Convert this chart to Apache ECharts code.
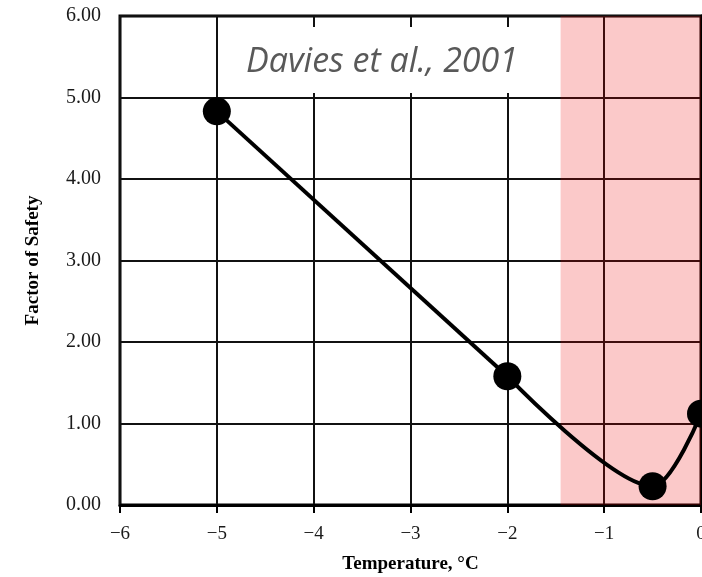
<!DOCTYPE html>
<html>
<head>
<meta charset="utf-8">
<script src="https://cdn.jsdelivr.net/npm/echarts@6/dist/echarts.min.js"></script>
<style>
  html, body { margin: 0; padding: 0; background: #fff; }
  #main { width: 702px; height: 577px; }
</style>
</head>
<body>
<div id="main"></div>
<script>
// data
var temps = [-5, -2, -0.5, 0];
var safety = [4.83, 1.58, 0.23, 1.12];
var xTicks = [-6, -5, -4, -3, -2, -1, 0];
var yTicks = [0, 1, 2, 3, 4, 5, 6];
var zoneStart = -1.45;   // start of shaded band
var zoneEnd = 0;

var pts = temps.map(function (t, i) { return [t, safety[i]]; });
var serif = '"Liberation Serif", "DejaVu Serif", serif';

var myChart = echarts.init(document.getElementById('main'));

var option = {
    animation: false,
    grid: {
        left: 120, right: 1, top: 16, bottom: 72,
        outerBoundsMode: 'none',
        containLabel: false,
        show: true, borderColor: '#000', borderWidth: 3, backgroundColor: 'transparent'
    },
    xAxis: {
        type: 'value',
        min: xTicks[0], max: xTicks[xTicks.length - 1], interval: 1,
        name: 'Temperature, °C',
        nameLocation: 'middle', nameGap: 50,
        nameTextStyle: { fontFamily: serif, fontWeight: 'bold', fontSize: 19, color: '#000' },
        axisLine: { lineStyle: { color: '#000', width: 3 } },
        axisTick: { show: true, length: 8, lineStyle: { color: '#000', width: 2 } },
        axisLabel: {
            margin: 20, fontFamily: serif, fontSize: 19, color: '#1a1a1a',
            formatter: function (v) { return String(v).replace('-', '\u2212'); }
        },
        splitLine: { show: true, lineStyle: { color: '#111', width: 2 } }
    },
    yAxis: {
        type: 'value',
        min: yTicks[0], max: yTicks[yTicks.length - 1], interval: 1,
        name: 'Factor of Safety',
        nameLocation: 'middle', nameGap: 77,
        nameTextStyle: { fontFamily: serif, fontWeight: 'bold', fontSize: 19, color: '#000' },
        axisLine: { show: true, lineStyle: { color: '#000', width: 3 } },
        axisTick: { show: false },
        axisLabel: {
            margin: 19, fontFamily: serif, fontSize: 20, color: '#1a1a1a',
            formatter: function (v) { return v.toFixed(2); }
        },
        splitLine: { show: true, lineStyle: { color: '#111', width: 2 } }
    },
    graphic: [
        {
            type: 'rect', z: 50,
            shape: { x: 228, y: 27, width: 327, height: 66 },
            style: { fill: '#fff' }
        },
        {
            type: 'text', z: 51,
            x: 382, y: 62,
            style: {
                text: 'Davies et al., 2001',
                fontFamily: '"Open Sans", "Noto Sans", sans-serif',
                fontStyle: 'italic', fontSize: 34, fill: '#595959',
                align: 'center', verticalAlign: 'middle'
            }
        }
    ],
    series: [
        {
            type: 'line',
            data: pts.slice(0, 2),
            showSymbol: false,
            lineStyle: { color: '#000', width: 4 },
            z: 3
        },
        {
            type: 'line',
            data: pts.slice(1),
            smooth: 0.3,
            showSymbol: false,
            lineStyle: { color: '#000', width: 4 },
            z: 3
        },
        {
            type: 'scatter',
            data: pts,
            symbolSize: 28,
            itemStyle: { color: '#000', opacity: 1 },
            z: 4
        },
        {
            type: 'line',
            data: [],
            z: 10,
            silent: true,
            markArea: {
                silent: true,
                itemStyle: { color: 'rgba(238,0,0,0.21)' },
                data: [[{ xAxis: zoneStart }, { xAxis: zoneEnd }]]
            }
        }
    ]
};

myChart.setOption(option);
window.onresize = myChart.resize;
</script>
</body>
</html>
